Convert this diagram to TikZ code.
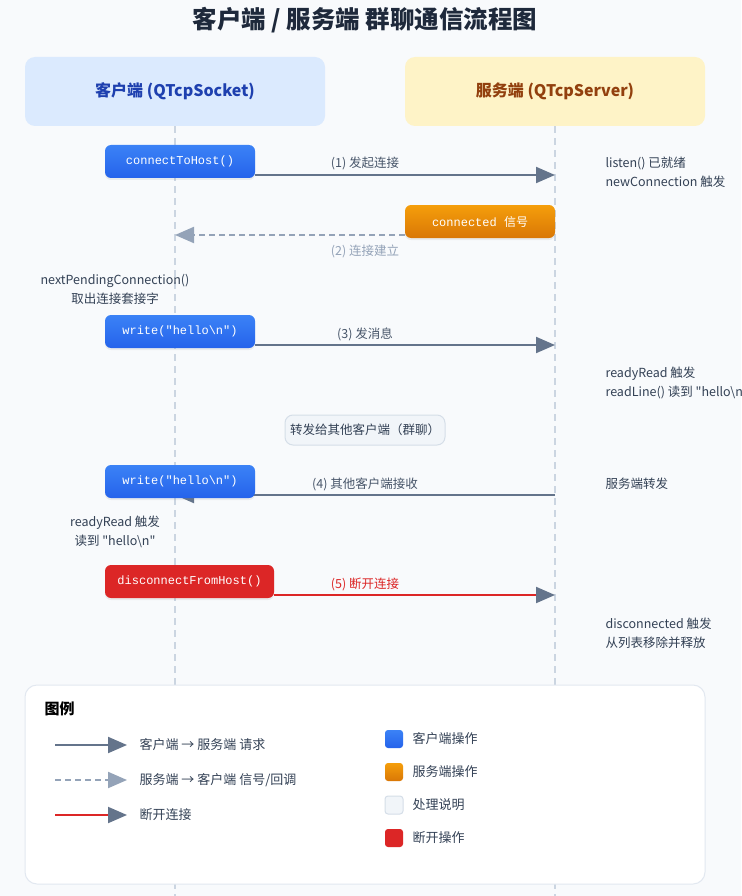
\documentclass[tikz,border=0pt]{standalone}
\usepackage{fontspec}
\setmainfont{Noto Sans CJK SC}[Ligatures=TeXOff]
\setmonofont{Liberation Mono}
\usepackage{xcolor}
\usepackage{tikz}
\usetikzlibrary{arrows.meta,shadows}
\definecolor{pagebg}{HTML}{F8FAFC}
\definecolor{titlecol}{HTML}{1E293B}
\definecolor{clifill}{HTML}{DBEAFE}
\definecolor{clitext}{HTML}{1E40AF}
\definecolor{srvfill}{HTML}{FEF3C7}
\definecolor{srvtext}{HTML}{92400E}
\definecolor{lifeline}{HTML}{CBD5E1}
\definecolor{bluetop}{HTML}{3B82F6}
\definecolor{bluebot}{HTML}{2563EB}
\definecolor{orangetop}{HTML}{F59E0B}
\definecolor{orangebot}{HTML}{D97706}
\definecolor{redop}{HTML}{DC2626}
\definecolor{arrowgray}{HTML}{64748B}
\definecolor{dashgray}{HTML}{94A3B8}
\definecolor{labtext}{HTML}{475569}
\definecolor{notetext}{HTML}{334155}
\definecolor{notefill}{HTML}{F1F5F9}
\definecolor{noteline}{HTML}{D5DEE8}
\definecolor{legline}{HTML}{E2E8F0}
\pgfdeclarelayer{bg}
\pgfdeclarelayer{lines}
\pgfsetlayers{bg,lines,main}
\tikzset{
  headbox/.style={rounded corners=10pt, minimum width=300pt, minimum height=69pt,
    font=\fontsize{16}{19}\selectfont\bfseries},
  opbox/.style={rounded corners=6pt, minimum width=150pt, minimum height=33pt,
    text=white, font=\ttfamily\fontsize{12}{14}\selectfont,
    drop shadow={opacity=0.12, shadow xshift=0pt, shadow yshift=-2pt}},
  clientop/.style={opbox, top color=bluetop, bottom color=bluebot},
  serverop/.style={opbox, top color=orangetop, bottom color=orangebot},
  closeop/.style={opbox, fill=redop},
  lifedash/.style={draw=lifeline, line width=1.5pt, dash pattern=on 7pt off 5pt},
  reqline/.style={draw=arrowgray, line width=2pt, -{Triangle[length=19pt,width=16pt]}},
  sigline/.style={draw=dashgray, line width=2pt, dash pattern=on 6pt off 4pt,
    -{Triangle[length=19pt,width=16pt]}},
  endline/.style={draw=redop, line width=2pt,
    -{Triangle[length=19pt,width=16pt,color=arrowgray]}},
  steplab/.style={text=labtext, font=\fontsize{12.5}{15}\selectfont},
  sidenote/.style={text=notetext, font=\fontsize{12.5}{19}\selectfont},
  legtext/.style={text=notetext, font=\fontsize{13}{16}\selectfont, anchor=west},
  legkey/.style={minimum size=18pt, rounded corners=3pt, inner sep=0pt},
}
\begin{document}
\begin{tikzpicture}[x=1pt,y=-1pt]
\clip (0,0) rectangle (741,896);
\begin{pgfonlayer}{bg}
\fill[pagebg] (0,0) rectangle (741,896);
\end{pgfonlayer}

% title and lane heads
\node[text=titlecol, font=\fontsize{24.5}{28}\selectfont\bfseries] (title) at (365,20)
  {客户端 / 服务端 群聊通信流程图};
\node[headbox, fill=clifill, text=clitext] (chead) at (175,91.5) {客户端 (QTcpSocket)};
\node[headbox, fill=srvfill, text=srvtext] (shead) at (555,91.5) {服务端 (QTcpServer)};

% lifelines
\coordinate (cend) at (175,896);
\coordinate (send) at (555,896);
\begin{pgfonlayer}{lines}
\draw[lifedash] (chead.south) -- (cend);
\draw[lifedash] (shead.south) -- (send);
\end{pgfonlayer}

% operations
\node[clientop] (connect) at (180,161.5) {connectToHost()};
\node[serverop] (connected) at (480,221.5) {connected {\rmfamily 信号}};
\node[clientop] (sendmsg) at (180,331.5) {write("hello\textbackslash n")};
\node[rounded corners=8pt, fill=notefill, draw=noteline, line width=1pt,
  minimum width=160pt, minimum height=30pt, text=notetext,
  font=\fontsize{12.5}{15}\selectfont] (relay) at (365,430) {转发给其他客户端（群聊）};
\node[clientop] (recvmsg) at (180,481.5) {write("hello\textbackslash n")};
\node[closeop, minimum width=169pt] (disconnect) at (189.5,581.5) {disconnectFromHost()};

% lifeline points
\coordinate (s1) at (555,175);
\coordinate (c2) at (175,235);
\coordinate (s3) at (555,345);
\coordinate (s4) at (555,495);
\coordinate (c4) at (175,495);
\coordinate (s5) at (555,595);

\begin{pgfonlayer}{lines}
\draw[reqline] (connect.east |- s1) -- (s1);
\draw[sigline] (connected.west |- c2) -- (c2);
\draw[reqline] (sendmsg.east |- s3) -- (s3);
\draw[reqline] (s4) -- (c4);
\draw[endline] (disconnect.east |- s5) -- (s5);
\end{pgfonlayer}

% step labels
\node[steplab] (lab1) at (365,163) {(1) 发起连接};
\node[steplab, text=dashgray] (lab2) at (365,251) {(2) 连接建立};
\node[steplab] (lab3) at (365,334) {(3) 发消息};
\node[steplab] (lab4) at (365,484) {(4) 其他客户端接收};
\node[steplab, text=redop] (lab5) at (365,584) {(5) 断开连接};

% side notes
\node[sidenote, anchor=west, align=left] (srvnote1) at (602,172.5)
  {listen() 已就绪\\newConnection 触发};
\node[sidenote, align=center] (clinote1) at (115,289)
  {nextPendingConnection()\\取出连接套接字};
\node[sidenote, anchor=west, align=left] (srvnote2) at (602,383)
  {readyRead 触发\\readLine() 读到 "hello\textbackslash n"};
\node[sidenote, anchor=west] (srvnote3) at (602,484) {服务端转发};
\node[sidenote, align=center] (clinote2) at (115,532)
  {readyRead 触发\\读到 "hello\textbackslash n"};
\node[sidenote, anchor=west, align=left] (srvnote4) at (602,633)
  {disconnected 触发\\从列表移除并释放};

% legend
\node[rounded corners=12pt, fill=white, draw=legline, line width=1pt,
  minimum width=680pt, minimum height=199pt] (legend) at (365,784.5) {};
\node[anchor=west, text=black, font=\fontsize{15}{18}\selectfont\bfseries] (legtitle) at (41,709) {图例};
\coordinate (k1a) at (55,745);  \coordinate (k1b) at (127,745);
\coordinate (k2a) at (55,780);  \coordinate (k2b) at (127,780);
\coordinate (k3a) at (55,815);  \coordinate (k3b) at (127,815);
\draw[reqline] (k1a) -- (k1b);
\draw[sigline] (k2a) -- (k2b);
\draw[endline] (k3a) -- (k3b);
\node[legtext] (kt1) at (136,745) {客户端 → 服务端 请求};
\node[legtext] (kt2) at (136,780) {服务端 → 客户端 信号/回调};
\node[legtext] (kt3) at (136,815) {断开连接};

\node[legkey, top color=bluetop, bottom color=bluebot] (sq1) at (394,739) {};
\node[legkey, top color=orangetop, bottom color=orangebot] (sq2) at (394,772) {};
\node[legkey, fill=notefill, draw=noteline, line width=1pt] (sq3) at (394,805) {};
\node[legkey, fill=redop] (sq4) at (394,838) {};
\node[legtext] (st1) at (409,739) {客户端操作};
\node[legtext] (st2) at (409,772) {服务端操作};
\node[legtext] (st3) at (409,805) {处理说明};
\node[legtext] (st4) at (409,838) {断开操作};
\end{tikzpicture}
\end{document}
